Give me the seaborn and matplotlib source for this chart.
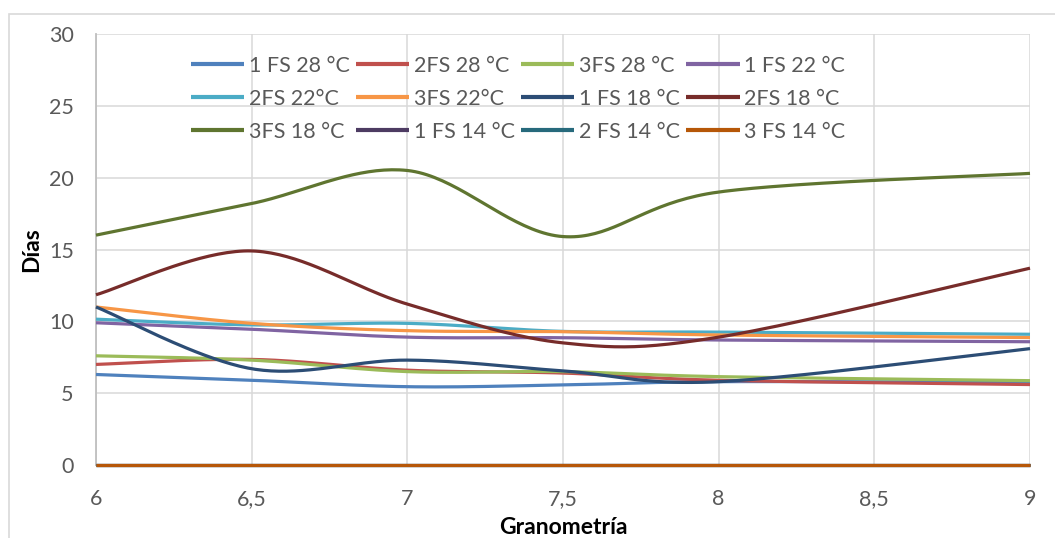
import numpy as np
import pandas as pd
import matplotlib
matplotlib.use("Agg")
import matplotlib.pyplot as plt
from matplotlib.patches import Rectangle
import seaborn as sns

# Granulometry values (x) and days per treatment series
granometria = [6, 6.5, 7, 7.5, 8, 9]

fs1_28 = [6.3, 5.9, 5.45, 5.57, 5.8, 5.75]
fs2_28 = [7.0, 7.35, 6.6, 6.4, 5.9, 5.6]
fs3_28 = [7.6, 7.3, 6.5, 6.5, 6.15, 5.87]
fs1_22 = [9.9, 9.45, 8.9, 8.86, 8.7, 8.58]
fs2_22 = [10.15, 9.75, 9.86, 9.3, 9.25, 9.1]
fs3_22 = [11.0, 9.86, 9.35, 9.28, 9.05, 8.87]
fs1_18 = [11.0, 6.7, 7.3, 6.55, 5.8, 8.1]
fs2_18 = [11.85, 14.9, 11.2, 8.5, 8.9, 13.7]
fs3_18 = [16.0, 18.2, 20.5, 15.9, 19.0, 20.3]
fs1_14 = [0, 0, 0, 0, 0, 0]
fs2_14 = [0, 0, 0, 0, 0, 0]
fs3_14 = [0, 0, 0, 0, 0, 0]

series_names = ["1 FS 28 °C", "2FS 28 °C", "3FS 28 °C", "1 FS 22 °C",
                "2FS 22°C", "3FS 22°C", "1 FS 18 °C", "2FS 18 °C",
                "3FS 18 °C", "1 FS 14 °C", "2 FS 14 °C", "3 FS 14 °C"]
series_values = [fs1_28, fs2_28, fs3_28, fs1_22, fs2_22, fs3_22,
                 fs1_18, fs2_18, fs3_18, fs1_14, fs2_14, fs3_14]
series_colors = ["#4F81BD", "#C0504D", "#9BBB59", "#8064A2",
                 "#4BACC6", "#F79646", "#2C4D75", "#772C2A",
                 "#5F7530", "#4D3B62", "#276A7C", "#B65708"]

x_ticks = [6, 6.5, 7, 7.5, 8, 8.5, 9]
x_ticklabels = ["6", "6,5", "7", "7,5", "8", "8,5", "9"]
y_ticks = [0, 5, 10, 15, 20, 25, 30]


def smooth(xs, ys, n=40):
    """Cubic Bezier smoothing through every point (spreadsheet-style)."""
    p = np.column_stack([xs, ys]).astype(float)
    m = len(p)
    out = []
    for i in range(m - 1):
        p0, p3 = p[i], p[i + 1]
        prev = p[i - 1] if i > 0 else p[i]
        nxt = p[i + 2] if i + 2 < m else p[i + 1]
        c1 = p0 + (p3 - prev) / 6.0
        c2 = p3 - (nxt - p0) / 6.0
        t = np.linspace(0, 1, n, endpoint=(i == m - 2))[:, None]
        seg = ((1 - t) ** 3) * p0 + 3 * ((1 - t) ** 2) * t * c1 \
            + 3 * (1 - t) * t ** 2 * c2 + t ** 3 * p3
        out.append(seg)
    return np.vstack(out)


frames = []
for name, vals in zip(series_names, series_values):
    curve = smooth(granometria, vals)
    frames.append(pd.DataFrame({"Granometría": curve[:, 0],
                                "Días": curve[:, 1],
                                "serie": name}))
df = pd.concat(frames, ignore_index=True)

sns.set_theme(style="whitegrid")
plt.rcParams["font.family"] = ["Lato", "DejaVu Sans"]

W, H = 1055, 538
fig = plt.figure(figsize=(W / 100, H / 100), dpi=100)
ax = fig.add_axes([96 / W, (H - 465) / H, (1030 - 96) / W, (465 - 34) / H])

sns.lineplot(data=df, x="Granometría", y="Días", hue="serie",
             hue_order=series_names, palette=series_colors,
             sort=False, estimator=None, linewidth=2.3, ax=ax)
for ln in ax.get_lines():
    ln.set_clip_on(False)
    ln.set_zorder(3)
    ln.set_solid_capstyle("butt")

ax.set_xlim(6, 9)
ax.set_ylim(0, 30)
ax.set_xticks(x_ticks)
ax.set_xticklabels(x_ticklabels)
ax.set_yticks(y_ticks)
ax.grid(True, color="#D9D9D9", linewidth=1.1)
ax.set_axisbelow(True)
for side in ["top", "right"]:
    ax.spines[side].set_visible(False)
for side in ["left", "bottom"]:
    ax.spines[side].set_color("#BFBFBF")
    ax.spines[side].set_linewidth(1.3)
ax.tick_params(axis="both", length=0, labelsize=15.5, colors="#595959")
ax.tick_params(axis="y", pad=16)
ax.tick_params(axis="x", pad=17)
ax.set_xlabel("Granometría", fontsize=16.5, fontweight="bold", color="black",
              labelpad=6)
ax.set_ylabel("Días", fontsize=16.5, fontweight="bold", color="black",
              labelpad=5)

# legend reads left-to-right, row by row
handles, labels = ax.get_legend_handles_labels()
ncol, nrow = 4, 3
order = [r * ncol + c for c in range(ncol) for r in range(nrow)]
handles = [handles[i] for i in order]
labels = [labels[i] for i in order]
leg = ax.legend(handles, labels, ncol=ncol, frameon=False, fontsize=15.5,
                loc="upper left",
                bbox_to_anchor=(191 / W, 1 - 56 / H),
                bbox_transform=fig.transFigure,
                borderpad=0, borderaxespad=0,
                handlelength=2.47, handletextpad=0.23,
                columnspacing=0.28, labelspacing=0.6)
for t in leg.get_texts():
    t.set_color("#595959")
for h in leg.get_lines():
    h.set_linewidth(3)

# outer chart-area frame
fig.patches.append(Rectangle((9 / W, -0.1), 1.2, 1 - 14 / H + 0.1,
                             transform=fig.transFigure, fill=False,
                             edgecolor="#D9D9D9", linewidth=1.2))

fig.savefig("out.png", dpi=100)
